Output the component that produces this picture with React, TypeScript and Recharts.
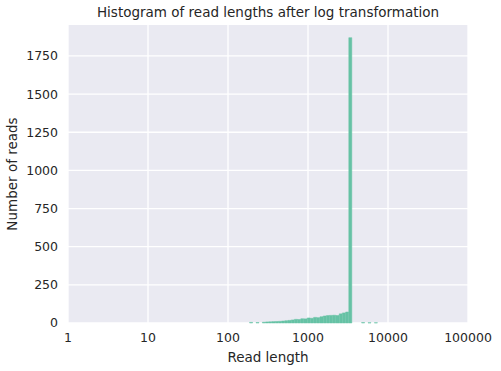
import React from 'react';
import { BarChart, Bar, XAxis, YAxis, CartesianGrid } from 'recharts';

// bin centres in log10(read length), width 0.04
const binCenters = [
  2.29, 2.33, 2.37, 2.41, 2.45, 2.49, 2.53, 2.57, 2.61, 2.65, 2.69, 2.73, 2.77, 2.81,
  2.85, 2.89, 2.93, 2.97, 3.01, 3.05, 3.09, 3.13, 3.17, 3.21, 3.25, 3.29, 3.33, 3.37,
  3.41, 3.45, 3.49, 3.53, 3.57, 3.61, 3.65, 3.69, 3.73, 3.77, 3.81, 3.85,
];
const readCounts = [
  4, 0, 3, 0, 5, 7, 8, 9, 10, 11, 13, 15, 17, 20,
  24, 23, 28, 27, 33, 31, 37, 35, 41, 46, 49, 50, 51, 49,
  60, 66, 72, 1870, 0, 0, 0, 3, 0, 2, 0, 2,
];
const xTicks = [0, 1, 2, 3, 4, 5];
const yTicks = [0, 250, 500, 750, 1000, 1250, 1500, 1750];

const data = binCenters.map((c, i) => ({ logLen: c, count: readCounts[i] }));

const font = 'DejaVu Sans, sans-serif';
const ink = '#262626';

const App: React.FC = () => {
  return (
    <div style={{ position: 'absolute', left: 0, top: 0, width: 501, height: 371, background: '#fff', fontFamily: font }}>
      <div style={{ position: 'absolute', top: 4, left: 68, width: 400, textAlign: 'center', fontSize: 13.5, color: ink }}>
        Histogram of read lengths after log transformation
      </div>
      <BarChart
        width={501}
        height={371}
        data={data}
        margin={{ top: 25, right: 33, bottom: 0, left: 0 }}
        barCategoryGap={0}
        barGap={0}
      >
        <CartesianGrid fill="#eaeaf2" stroke="#ffffff" strokeWidth={1.3} horizontalValues={yTicks} verticalValues={xTicks} />
        <XAxis
          type="number"
          dataKey="logLen"
          domain={[0, 5]}
          ticks={xTicks}
          tickFormatter={(v: number) => String(Math.round(Math.pow(10, v)))}
          axisLine={false}
          tickLine={false}
          height={48}
          tickMargin={4}
          tick={{ fill: ink, fontSize: 12.5, fontFamily: font }}
          label={{ value: 'Read length', position: 'insideBottom', offset: 9, fill: ink, fontSize: 13.5, fontFamily: font }}
        />
        <YAxis
          type="number"
          domain={[0, 1953]}
          ticks={yTicks}
          axisLine={false}
          tickLine={false}
          width={68}
          tickMargin={4}
          tick={{ fill: ink, fontSize: 12.5, fontFamily: font }}
          label={{ value: 'Number of reads', angle: -90, position: 'insideLeft', offset: 12, fill: ink, fontSize: 13.5, fontFamily: font, style: { textAnchor: 'middle' } }}
        />
        <Bar dataKey="count" fill="#66c2a5" stroke="#66c2a5" strokeWidth={0.5} isAnimationActive={false} />
      </BarChart>
    </div>
  );
};

export default App;
